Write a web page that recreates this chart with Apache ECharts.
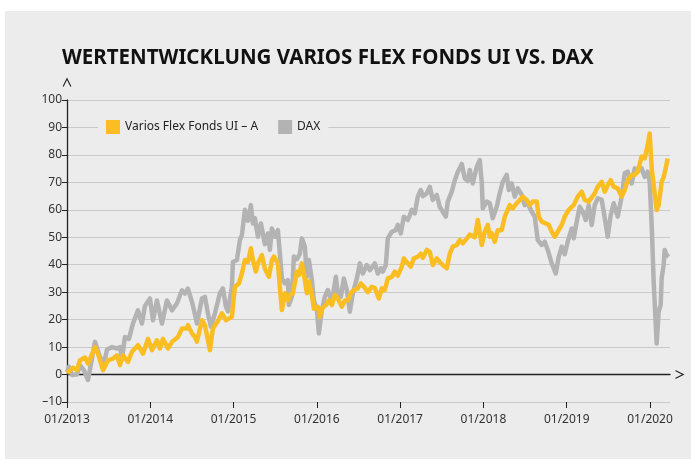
<!DOCTYPE html>
<html>
<head>
<meta charset="utf-8">
<script src="https://cdn.jsdelivr.net/npm/echarts@6/dist/echarts.min.js"></script>
<style>
  html, body { margin: 0; padding: 0; background: #ffffff; }
  #chart { width: 691px; height: 468px; }
</style>
</head>
<body>
<div id="chart"></div>
<script>
// x values are decimal years (2013.5 = mid 2013), y values in %
const yearTicks = [2013, 2014, 2015, 2016, 2017, 2018, 2019, 2020];

const fondsT = [
  2013.0, 2013.012, 2013.072, 2013.12, 2013.156, 2013.216, 2013.252, 2013.336, 2013.372, 2013.432,
  2013.492, 2013.552, 2013.6, 2013.636, 2013.672, 2013.732, 2013.78, 2013.852, 2013.912, 2013.972,
  2014.02, 2014.08, 2014.116, 2014.152, 2014.212, 2014.26, 2014.332, 2014.38, 2014.44, 2014.452,
  2014.5, 2014.536, 2014.56, 2014.62, 2014.656, 2014.716, 2014.752, 2014.812, 2014.86, 2014.908,
  2014.932, 2014.98, 2015.016, 2015.064, 2015.1, 2015.136, 2015.172, 2015.208, 2015.232, 2015.268,
  2015.292, 2015.34, 2015.376, 2015.424, 2015.46, 2015.484, 2015.532, 2015.556, 2015.58, 2015.616,
  2015.652, 2015.676, 2015.712, 2015.76, 2015.784, 2015.82, 2015.856, 2015.88, 2015.904, 2015.94,
  2015.964, 2016.012, 2016.036, 2016.06, 2016.108, 2016.144, 2016.18, 2016.216, 2016.252, 2016.3,
  2016.336, 2016.372, 2016.408, 2016.444, 2016.492, 2016.528, 2016.564, 2016.612, 2016.66, 2016.696,
  2016.744, 2016.78, 2016.816, 2016.852, 2016.9, 2016.936, 2016.972, 2017.02, 2017.044, 2017.092,
  2017.128, 2017.164, 2017.212, 2017.248, 2017.272, 2017.32, 2017.356, 2017.392, 2017.44, 2017.476,
  2017.512, 2017.56, 2017.596, 2017.632, 2017.68, 2017.716, 2017.752, 2017.8, 2017.836, 2017.896,
  2017.932, 2017.956, 2017.98, 2018.016, 2018.052, 2018.076, 2018.1, 2018.136, 2018.172, 2018.22,
  2018.256, 2018.316, 2018.352, 2018.4, 2018.436, 2018.472, 2018.52, 2018.556, 2018.592, 2018.64,
  2018.664, 2018.7, 2018.748, 2018.784, 2018.82, 2018.856, 2018.892, 2018.94, 2018.976, 2019.024,
  2019.036, 2019.084, 2019.132, 2019.18, 2019.216, 2019.264, 2019.3, 2019.336, 2019.372, 2019.42,
  2019.456, 2019.492, 2019.528, 2019.564, 2019.612, 2019.66, 2019.696, 2019.732, 2019.78, 2019.816,
  2019.852, 2019.9, 2019.936, 2019.972, 2019.996, 2020.02, 2020.044, 2020.08, 2020.104, 2020.14,
  2020.164, 2020.188, 2020.212
];
const fondsVal = [
  0.5, 1, 2.5, 1.6, 5.2, 6.2, 4, 10, 7.6, 1.6,
  5.2, 5.8, 7, 3.4, 7, 4.6, 8.3, 10.7, 7.6, 13,
  8.9, 12.5, 9.5, 13, 9.5, 11.9, 13.7, 16.8, 16.8, 18,
  15, 13.7, 12, 19.8, 18, 8.9, 16.8, 19.5, 22.3, 19.8,
  20.5, 21, 32, 33.2, 36.8, 41.7, 41, 46, 41.7, 37.5,
  40.5, 43.5, 38.5, 35.6, 41.7, 43, 40.5, 32, 23.5, 29.6,
  27, 29, 29.6, 37.5, 36.2, 40.5, 34.4, 29.6, 34, 29,
  24, 24.7, 21, 24, 25.3, 27, 25.3, 29, 27.7, 24.7,
  27, 27, 29.6, 30.8, 31.4, 33.2, 32, 30, 32, 31.5,
  27.7, 31.4, 30.8, 35, 35.6, 37.5, 36, 39.3, 42.3, 40.5,
  39.3, 42.3, 42.9, 44, 42.5, 45.4, 44.7, 39.9, 42.3, 41,
  39.9, 38.7, 44, 46.6, 47.2, 49, 47.8, 49.5, 51, 50,
  56.3, 56.9, 47.2, 52, 54.5, 50.2, 51.5, 48.4, 52.6, 52.6,
  57.5, 61.7, 60.5, 62.4, 63.6, 64.8, 63.6, 61.7, 63, 63,
  57.5, 55.7, 55, 54.5, 52, 50.2, 52, 54.5, 57.5, 60,
  60.5, 61.7, 64.8, 66.6, 63.6, 63, 64.5, 66, 68.4, 70.2,
  66.6, 69, 70.8, 68.4, 67.8, 64.8, 67.2, 70.8, 72.7, 72.7,
  73.9, 79.4, 78.7, 83.6, 87.8, 75.1, 69, 59.9, 61.7, 70.2,
  72, 75.1, 78.7
];

const daxT = [
  2013.0, 2013.024, 2013.06, 2013.12, 2013.156, 2013.204, 2013.252, 2013.336, 2013.396, 2013.444,
  2013.48, 2013.54, 2013.6, 2013.636, 2013.66, 2013.696, 2013.744, 2013.792, 2013.852, 2013.9,
  2013.936, 2013.996, 2014.032, 2014.08, 2014.14, 2014.2, 2014.26, 2014.32, 2014.38, 2014.416,
  2014.452, 2014.5, 2014.536, 2014.56, 2014.62, 2014.656, 2014.692, 2014.728, 2014.776, 2014.836,
  2014.872, 2014.908, 2014.932, 2014.98, 2014.992, 2015.04, 2015.076, 2015.1, 2015.136, 2015.172,
  2015.208, 2015.232, 2015.256, 2015.292, 2015.328, 2015.376, 2015.412, 2015.436, 2015.46, 2015.496,
  2015.532, 2015.556, 2015.58, 2015.616, 2015.652, 2015.664, 2015.7, 2015.724, 2015.76, 2015.796,
  2015.82, 2015.856, 2015.88, 2015.904, 2015.94, 2015.964, 2016.0, 2016.024, 2016.06, 2016.096,
  2016.132, 2016.18, 2016.228, 2016.252, 2016.288, 2016.324, 2016.36, 2016.396, 2016.432, 2016.48,
  2016.516, 2016.552, 2016.6, 2016.636, 2016.66, 2016.696, 2016.732, 2016.768, 2016.792, 2016.828,
  2016.852, 2016.9, 2016.948, 2016.972, 2017.008, 2017.044, 2017.092, 2017.116, 2017.14, 2017.176,
  2017.212, 2017.248, 2017.272, 2017.32, 2017.356, 2017.392, 2017.44, 2017.476, 2017.512, 2017.548,
  2017.572, 2017.62, 2017.656, 2017.692, 2017.74, 2017.776, 2017.812, 2017.836, 2017.872, 2017.92,
  2017.956, 2017.98, 2017.992, 2018.04, 2018.076, 2018.112, 2018.16, 2018.196, 2018.232, 2018.28,
  2018.304, 2018.34, 2018.376, 2018.412, 2018.46, 2018.496, 2018.532, 2018.58, 2018.616, 2018.652,
  2018.7, 2018.736, 2018.772, 2018.82, 2018.868, 2018.904, 2018.94, 2018.976, 2019.012, 2019.06,
  2019.084, 2019.12, 2019.156, 2019.192, 2019.228, 2019.264, 2019.3, 2019.336, 2019.372, 2019.42,
  2019.444, 2019.492, 2019.528, 2019.564, 2019.612, 2019.66, 2019.696, 2019.732, 2019.78, 2019.816,
  2019.852, 2019.9, 2019.936, 2019.972, 2019.996, 2020.02, 2020.044, 2020.08, 2020.104, 2020.128,
  2020.14, 2020.164, 2020.176, 2020.2, 2020.224
];
const daxVal = [
  1, 2.8, -0.2, 0, 3.4, 1.5, -2, 11.9, 6.4, 4,
  9, 10, 9.5, 10, 5.8, 13.7, 13, 18.6, 23.4, 18.6,
  25, 27.7, 19.8, 27, 18.6, 27, 23.4, 25.9, 30.7, 29.5,
  31.3, 26.5, 22, 18.6, 27.7, 28.3, 22.3, 17.4, 22.3, 29.6,
  31.4, 24.7, 23, 32, 41, 41.7, 49, 50.8, 60, 56,
  61.7, 55, 57, 50.2, 55, 47.5, 51.4, 45.4, 53.2, 50.2,
  52.6, 44, 35, 33.2, 34.4, 25.3, 28.3, 43, 42, 44,
  49.6, 46.6, 35.6, 41.7, 34.4, 27, 24, 15, 23.5, 28.3,
  30.8, 26.5, 35.6, 29.6, 28.3, 35, 30.8, 22.9, 29.6, 35,
  40.5, 36.8, 39.9, 38, 38.7, 40.5, 36.8, 38.7, 37.5, 39.9,
  49.6, 52, 52.6, 54.5, 51.4, 57.5, 56.3, 58, 60, 58.7,
  64.8, 67.2, 65, 66, 68.4, 63.6, 65.4, 61, 59.3, 57.5,
  63, 66.6, 70.8, 73.8, 76.7, 71.5, 70.5, 74.5, 69.6, 75.7,
  78.1, 70, 60.5, 63, 62.4, 56.9, 61.2, 66, 70.2, 72.7,
  67.2, 69.6, 64.8, 67.8, 65.4, 61.7, 62.4, 59.3, 57.5, 49,
  47.2, 48.4, 45.4, 40.5, 36.8, 42.9, 46.6, 43.8, 48.4, 53.2,
  49.6, 55.7, 61.1, 59.3, 56.3, 61.7, 54.5, 61.7, 64.2, 63.6,
  59.3, 50.2, 58, 62.4, 57.5, 64.8, 73.3, 73.9, 69.6, 75.1,
  74, 75.1, 72, 73.9, 70.2, 54.5, 33.8, 11.3, 22.9, 25.3,
  35, 39.9, 45.4, 43.5, 42.9
];

const fondsName = 'Varios Flex Fonds UI – A';
const daxName = 'DAX';

function pairs(t, v) {
  let out = [];
  for (let i = 0; i < t.length; i++) {
    out.push([t[i], v[i]]);
  }
  return out;
}

// open chevron used as axis arrow head
const chevron = 'path://M0,10 L5,0 L10,10 L8.6,10 L5,2.8 L1.4,10 Z';
const font = 'Noto Sans';

let chart = echarts.init(document.getElementById('chart'));
let option = {
  animation: false,
  textStyle: { fontFamily: font },
  graphic: [
    {
      type: 'rect',
      z: -10,
      silent: true,
      shape: { x: 5, y: 11, width: 686, height: 448 },
      style: { fill: '#ececec' }
    }
  ],
  title: {
    text: 'WERTENTWICKLUNG VARIOS FLEX FONDS UI VS. DAX',
    left: 57,
    top: 43,
    textStyle: { fontFamily: font, fontSize: 20.5, fontWeight: 'bold', color: '#111' }
  },
  legend: {
    left: 98,
    top: 117,
    padding: [3, 8],
    backgroundColor: '#ececec',
    icon: 'rect',
    itemWidth: 14,
    itemHeight: 14,
    itemGap: 20,
    textStyle: { fontFamily: font, fontSize: 12, color: '#222' },
    data: [fondsName, daxName]
  },
  grid: {
    left: 67,
    right: 21,
    top: 100,
    bottom: 66
  },
  xAxis: [
    {
      type: 'value',
      min: 2013,
      max: 2020.24,
      axisLine: { show: false, onZero: false },
      splitLine: { show: false },
      axisTick: {
        show: true,
        length: 6,
        customValues: yearTicks,
        lineStyle: { color: '#222' }
      },
      axisLabel: {
        customValues: yearTicks,
        margin: 12,
        fontSize: 12,
        color: '#333',
        formatter: function (v) { return '01/' + Math.round(v); }
      }
    },
    {
      // zero line with arrow
      type: 'value',
      min: 2013,
      max: 2020.24,
      axisLine: {
        show: true,
        onZero: true,
        symbol: ['none', chevron],
        symbolSize: [9, 9],
        symbolOffset: [0, 10],
        lineStyle: { color: '#222', width: 1.3 }
      },
      axisTick: { show: false },
      axisLabel: { show: false },
      splitLine: { show: false }
    }
  ],
  yAxis: {
    type: 'value',
    min: -10,
    max: 100,
    interval: 10,
    axisLine: {
      show: true,
      symbol: ['none', chevron],
      symbolSize: [9, 9],
      symbolOffset: [0, 18],
      lineStyle: { color: '#222', width: 1.3 }
    },
    axisTick: { show: true, length: 5, lineStyle: { color: '#222' } },
    axisLabel: {
      margin: 5,
      fontSize: 12,
      color: '#333',
      formatter: function (v) { return v < 0 ? '–' + Math.abs(v) : String(v); }
    },
    splitLine: { show: true, lineStyle: { color: '#c9c9c9', width: 1 } }
  },
  series: [
    {
      name: fondsName,
      type: 'line',
      z: 4,
      showSymbol: false,
      color: '#fbbe22',
      lineStyle: { width: 4.5, color: '#fbbe22', join: 'round' },
      data: pairs(fondsT, fondsVal)
    },
    {
      name: daxName,
      type: 'line',
      z: 3,
      showSymbol: false,
      color: '#b3b3b3',
      lineStyle: { width: 4.5, color: '#b3b3b3', join: 'round' },
      data: pairs(daxT, daxVal)
    }
  ]
};
chart.setOption(option);
</script>
</body>
</html>
